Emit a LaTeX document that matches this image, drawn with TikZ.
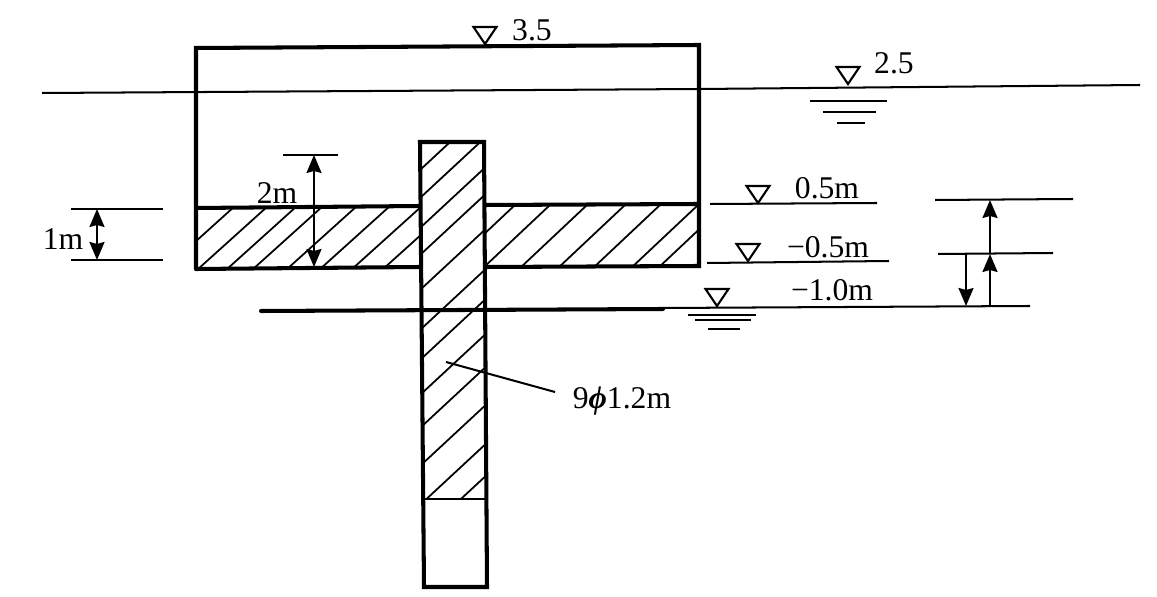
\documentclass[tikz,border=0pt]{standalone}
\usepackage{fontspec}
\setmainfont{Liberation Serif}
\usetikzlibrary{arrows.meta}
\tikzset{
    wall/.style={line width=2.3pt, line cap=round, line join=miter},
    thinline/.style={line width=1.15pt},
    hatchline/.style={line width=1pt},
    dimline/.style={line width=1.15pt, -{Stealth[length=3.6mm,width=3mm,inset=0.4mm]}},
    dimboth/.style={line width=1.15pt, {Stealth[length=3.6mm,width=3mm,inset=0.4mm]}-{Stealth[length=3.6mm,width=3mm,inset=0.4mm]}},
    lbl/.style={inner sep=0pt, font=\fontsize{18}{20}\selectfont},
    lvlmark/.pic={\draw[line width=1.2pt, line join=miter] (-11.5,-18) -- (11.5,-18) -- (0,-1) -- cycle;},
}
\begin{document}
\begin{tikzpicture}[x=0.02cm, y=-0.02cm]
    \useasboundingbox (0,0) rectangle (1157,597);
    \fill[white] (0,0) rectangle (1157,597);
    % hatching of the slab
    \begin{scope}
        \clip (197,208) -- (420,206) -- (420,267) -- (197,269) -- cycle;
        \foreach \xt in {235,268,297,323,357,390,422,453}
            \draw[hatchline] (\xt,206) -- ++(-71,64);
    \end{scope}
    \begin{scope}
        \clip (485,205) -- (698,204) -- (698,266) -- (485,267) -- cycle;
        \foreach \xt in {515,550,587,625,660,698,725}
            \draw[hatchline] (\xt,205) -- ++(-68,64);
    \end{scope}
    % hatching of the pile
    \begin{scope}
        \clip (421,142) -- (484,142) -- (486,499) -- (423,499) -- cycle;
        \foreach \yl in {170,198,228,255,290,330,360,395,428,466,505,537}
            \draw[hatchline] (420,\yl) -- ++(70,-65);
    \end{scope}
    % water and ground lines
    \draw[thinline] (42,93) -- (700,89) -- (1140,85);
    \draw[wall] (261,311) -- (663,309);
    \draw[thinline] (663,308) -- (1030,306);
    % box, slab and pile
    \draw[wall] (196,269) -- (196,48) -- (699,45) -- (699,266) -- (485,267);
    \draw[wall] (196,208) -- (420,206);
    \draw[wall] (196,269) -- (420,267);
    \draw[wall] (485,205) -- (699,204);
    \draw[wall] (420,142) -- (484,142) -- (487,587) -- (424,587) -- cycle;
    \draw[thinline] (423,499) -- (486,499);
    % levels
    \pic at (485,45) {lvlmark};
    \pic at (848,85) {lvlmark};
    \pic at (758,204) {lvlmark};
    \pic at (748,262) {lvlmark};
    \pic at (717,307) {lvlmark};
    \draw[thinline] (710,204) -- (877,203);
    \draw[thinline] (707,263) -- (889,261);
    \draw[thinline] (810,101) -- (887,101);
    \draw[thinline] (823,112) -- (876,112);
    \draw[thinline] (837,123) -- (865,123);
    \draw[thinline] (688,315) -- (756,315);
    \draw[thinline] (695,320) -- (751,320);
    \draw[thinline] (708,329) -- (740,329);
    % dimensions
    \draw[thinline] (71,209) -- (163,209);
    \draw[thinline] (71,260) -- (163,260);
    \draw[dimboth] (97,209) -- (97,260);
    \draw[thinline] (283,155) -- (338,155);
    \draw[dimboth] (314,155) -- (314,267);
    \draw[thinline] (935,200) -- (1073,199);
    \draw[thinline] (938,254) -- (1053,253);
    \draw[dimline] (990,254) -- (990,200);
    \draw[dimline] (990,306) -- (990,254);
    \draw[dimline] (966,254) -- (966,306);
    \draw[thinline] (446,362) -- (555,392);
    % labels
    \node[lbl] (top) at (532,30) {3.5};
    \node[lbl] (water) at (894,63) {2.5};
    \node[lbl] (upper) at (827,188) {0.5m};
    \node[lbl] (lower) at (828,247) {−0.5m};
    \node[lbl] (ground) at (832,290) {−1.0m};
    \node[lbl] (slab) at (277,193) {2m};
    \node[lbl] (side) at (63,239) {1m};
    \node[lbl] (pile) at (622,401) {9{\bfseries\itshape ϕ}1.2m};
\end{tikzpicture}
\end{document}
